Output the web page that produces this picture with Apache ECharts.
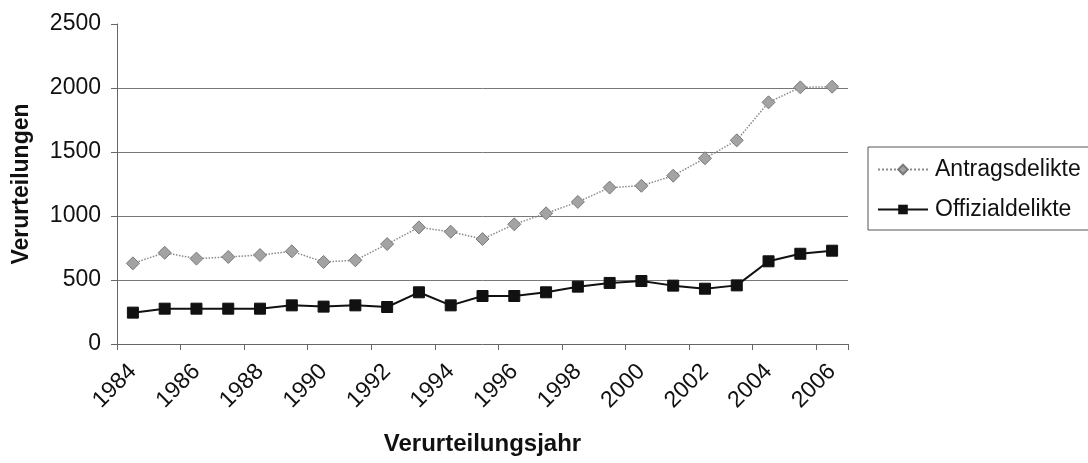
<!DOCTYPE html>
<html>
<head>
<meta charset="utf-8">
<script src="https://cdn.jsdelivr.net/npm/echarts@6/dist/echarts.min.js"></script>
<style>
html,body{margin:0;padding:0;background:#fff;}
#chart{width:1088px;height:463px;}
</style>
</head>
<body>
<div id="chart"></div>
<script>
const years = ['1984','1985','1986','1987','1988','1989','1990','1991','1992','1993','1994','1995','1996','1997','1998','1999','2000','2001','2002','2003','2004','2005','2006'];
const antragsdelikte = [630,713,667,680,695,724,641,654,781,911,877,820,935,1021,1110,1222,1236,1315,1451,1591,1888,2005,2010];
const offizialdelikte = [245,276,276,276,276,302,292,302,289,404,302,375,375,404,448,477,492,456,432,458,646,705,729];
const yTicks = {min:0,max:2500,interval:500};

const chart = echarts.init(document.getElementById('chart'), null, {renderer:'canvas'});
const font = 'Liberation Sans, Arial, sans-serif';
chart.setOption({
  animation:false,
  backgroundColor:'#fff',
  grid:{left:117,right:240,top:24,bottom:119,containLabel:false},
  legend:{
    orient:'vertical',left:868,top:147,
    padding:[11,30,9,9],
    itemGap:17,itemWidth:50,itemHeight:12,
    borderColor:'#555',borderWidth:1,
    textStyle:{fontFamily:font,fontSize:23,color:'#111',padding:[0,0,0,2]},
    data:['Antragsdelikte','Offizialdelikte']
  },
  xAxis:{
    type:'category',data:years,boundaryGap:true,
    name:'Verurteilungsjahr',nameLocation:'middle',nameGap:88,
    nameTextStyle:{fontFamily:font,fontSize:24,fontWeight:'bold',color:'#111'},
    axisLine:{lineStyle:{color:'#666',width:1}},
    axisTick:{show:true,length:6,lineStyle:{color:'#666'}},
    axisLabel:{rotate:45,interval:1,fontFamily:font,fontSize:23,color:'#111',margin:24},
    splitLine:{show:false}
  },
  yAxis:{
    type:'value',min:yTicks.min,max:yTicks.max,interval:yTicks.interval,
    name:'Verurteilungen',nameLocation:'middle',nameGap:84,
    nameTextStyle:{fontFamily:font,fontSize:23,fontWeight:'bold',color:'#111'},
    axisLine:{show:true,lineStyle:{color:'#666',width:1}},
    axisTick:{show:true,length:6,lineStyle:{color:'#666'}},
    axisLabel:{fontFamily:font,fontSize:23,color:'#111',margin:16,formatter:function(v){return String(v);}},
    splitLine:{show:true,showMaxLine:false,showMinLine:false,lineStyle:{color:'#777',width:1}}
  },
  series:[
    {
      name:'Antragsdelikte',type:'line',data:antragsdelikte,
      symbol:'diamond',symbolSize:13,
      itemStyle:{color:'#a3a3a3',borderColor:'#7a7a7a',borderWidth:1},
      lineStyle:{color:'#8a8a8a',width:1.5,type:'dotted'}
    },
    {
      name:'Offizialdelikte',type:'line',data:offizialdelikte,
      symbol:'rect',symbolSize:11,
      itemStyle:{color:'#111',borderColor:'#111'},
      lineStyle:{color:'#111',width:2}
    }
  ]
});
</script>
</body>
</html>
